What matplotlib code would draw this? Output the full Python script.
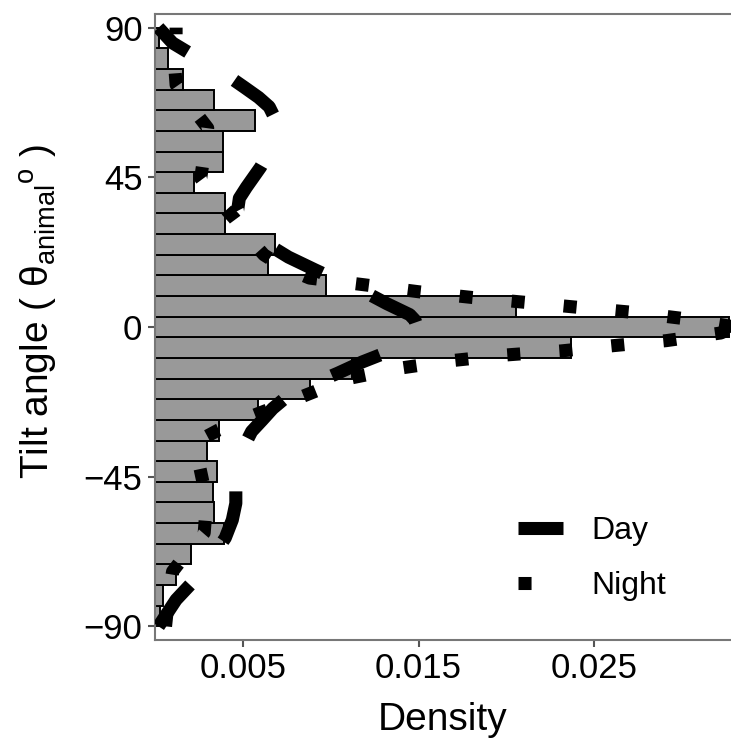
import numpy as np
import matplotlib
matplotlib.use("Agg")
from matplotlib import pyplot as plt

# histogram: 29 bins between -90 and 90, densities listed bottom to top
bin_edges = np.linspace(-90, 90, 30)
hist_density = [0.0003, 0.00044, 0.0012, 0.00205, 0.0039, 0.00337, 0.00328,
                0.00352, 0.00295, 0.00366, 0.00587, 0.00883, 0.0112, 0.02367,
                0.03267, 0.02057, 0.00976, 0.00644, 0.00682, 0.00398, 0.00398,
                0.0022, 0.00385, 0.00385, 0.0057, 0.00333, 0.00157, 0.00072,
                0.0002]

# density curves (angle, density)
day_angle = [-90, -86, -82, -77.5, -73, -68, -63.4, -58, -53, -48.4, -43, -38,
             -34.5, -31.4, -28, -24.5, -21.4, -17.5, -13.9, -10.5, -7.8, -4.5,
             -1, 2, 3.7, 7, 11.2, 14, 17.2, 21, 25.2, 29, 32, 35, 38.7, 42, 45,
             48, 51.7, 55, 59, 63, 66.2, 69, 72, 76.4, 80, 85.4, 90]
day_dens = [0.0002, 0.0007, 0.0012, 0.0020, 0.0027, 0.0034, 0.0040, 0.0044,
            0.0046, 0.0046, 0.0047, 0.0050, 0.0052, 0.0055, 0.0061, 0.0067,
            0.0074, 0.0088, 0.0104, 0.0118, 0.0131, 0.0143, 0.0150, 0.0148,
            0.0145, 0.0132, 0.0117, 0.0104, 0.0091, 0.0076, 0.0063, 0.0055,
            0.0050, 0.0047, 0.0048, 0.0052, 0.0056, 0.0060, 0.0064, 0.0067,
            0.0069, 0.0068, 0.0065, 0.0059, 0.0051, 0.0039, 0.0027, 0.0010,
            0.0002]

night_angle = [-90, -85, -80, -73.5, -68, -61.9, -55, -48.4, -41, -34.4, -31,
               -27.4, -21.7, -15.6, -12.4, -10.1, -8.4, -7.2, -5.6, -4.1, -1.8,
               0, 2.4, 4.4, 5.9, 7.4, 8.9, 10.6, 12.7, 14.7, 18, 21.7, 27, 32.7,
               39, 44.7, 52, 59.8, 66, 72.8, 80, 87.7, 90]
night_dens = [0.0006, 0.0007, 0.0008, 0.0010, 0.0018, 0.0028, 0.0029, 0.0028,
              0.0025, 0.0024, 0.0036, 0.0052, 0.0080, 0.0109, 0.0139, 0.0169,
              0.0200, 0.0231, 0.0261, 0.0291, 0.0322, 0.0330, 0.0303, 0.0272,
              0.0241, 0.0211, 0.0180, 0.0150, 0.0119, 0.0088, 0.0073, 0.0062,
              0.0053, 0.0045, 0.0034, 0.0026, 0.0028, 0.0030, 0.0021, 0.0012,
              0.0011, 0.0012, 0.0012]

x_ticks = [0.005, 0.015, 0.025]
y_ticks = [-90, -45, 0, 45, 90]


def main():
	plt.rcParams["font.family"] = ["Liberation Sans", "DejaVu Sans"]
	plt.rcParams["mathtext.fontset"] = "custom"
	plt.rcParams["mathtext.rm"] = "Liberation Sans"
	plt.rcParams["mathtext.it"] = "Liberation Sans:italic"

	fig = plt.figure(figsize=(7.31, 7.38), dpi=100)
	ax = fig.add_axes([155 / 731, 98 / 738, 1 - 155 / 731, 626 / 738])

	centers = (bin_edges[:-1] + bin_edges[1:]) / 2
	ax.barh(centers, hist_density, height=bin_edges[1] - bin_edges[0],
	        color="#999999", edgecolor="black", linewidth=1.4, zorder=1)

	lw = 9.4
	ax.plot(day_dens, day_angle, color="black", lw=lw, dashes=(4, 4.2),
	        dash_capstyle="butt", label="Day", zorder=3)
	ax.plot(night_dens, night_angle, color="black", lw=lw, dashes=(1, 3),
	        dash_capstyle="butt", label="Night", zorder=3)

	ax.set_xlim(0, 0.03278)
	ax.set_ylim(-94.1, 94.1)
	ax.set_xticks(x_ticks)
	ax.set_xticklabels(["0.005", "0.015", "0.025"])
	ax.set_yticks(y_ticks)
	ax.set_yticklabels(["\u221290", "\u221245", "0", "45", "90"])
	ax.tick_params(labelsize=25, length=5, width=1.5, color="#555555",
	               labelcolor="black", pad=4)

	for side in ["left", "top", "bottom"]:
		ax.spines[side].set_color("#777777")
		ax.spines[side].set_linewidth(1.5)
	ax.spines["right"].set_visible(False)

	ax.set_xlabel("Density", fontsize=28, labelpad=12)
	ax.set_ylabel(r"Tilt angle ( $\mathregular{\theta_{animal}{}^{o}}$ )",
	              fontsize=28)
	ax.yaxis.set_label_coords(-0.165, 0.525)

	ax.legend(loc="upper left", bbox_to_anchor=(518 / 731, 1 - 516 / 738),
	          bbox_transform=fig.transFigure, frameon=False, fontsize=23,
	          handlelength=1.4, handletextpad=0.9, labelspacing=0.78,
	          borderpad=0, borderaxespad=0)

	fig.savefig("out.png", dpi=100)


if __name__ == "__main__":
	main()
